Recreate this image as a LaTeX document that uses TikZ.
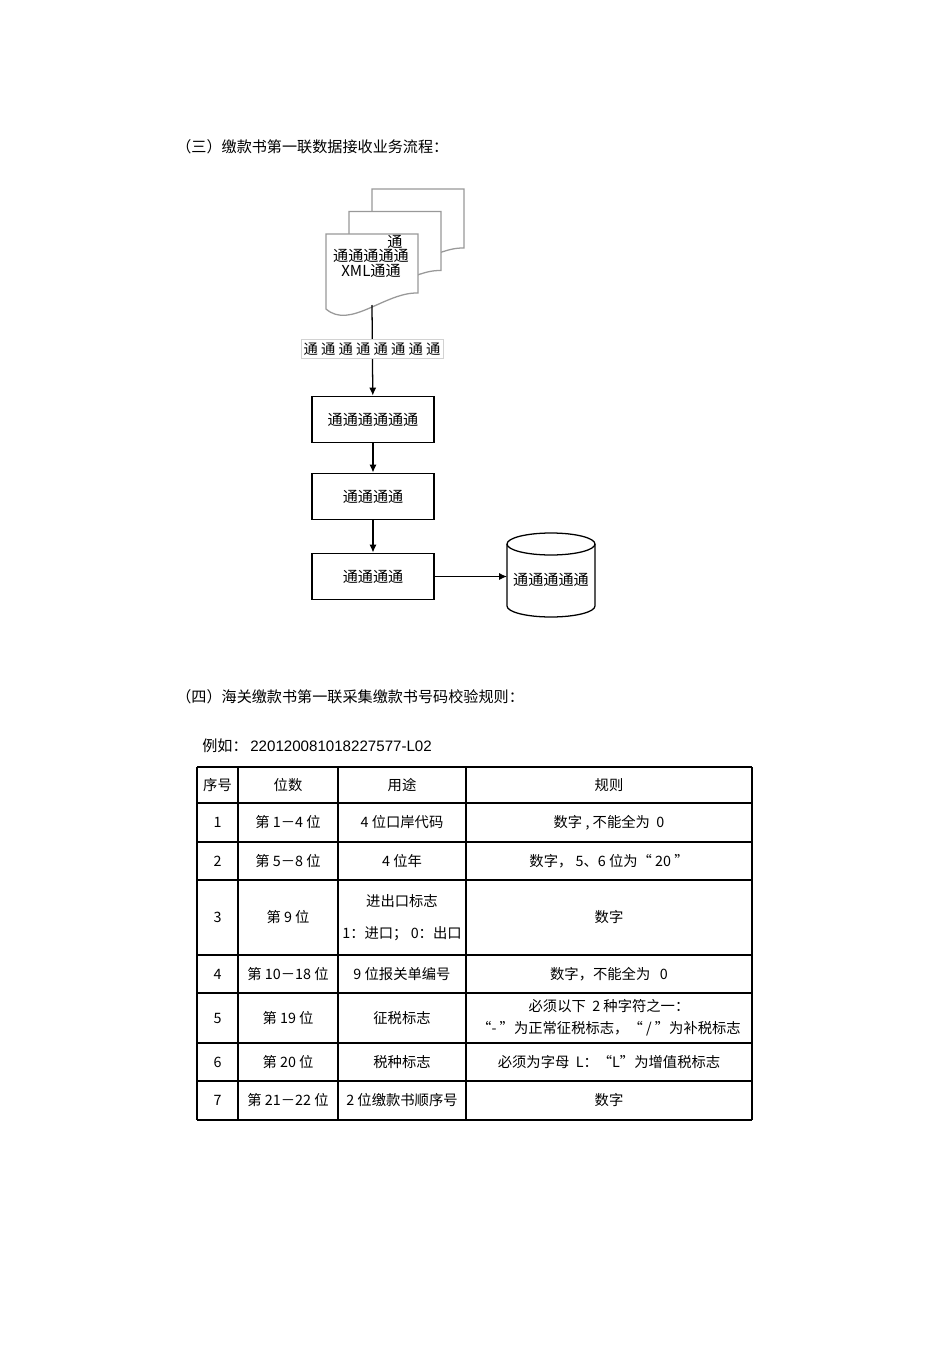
\documentclass[tikz,border=0pt]{standalone}
\usepackage{fontspec}
\setmainfont{Noto Sans CJK SC}
\newfontfamily\latfont{Liberation Sans}
\usetikzlibrary{arrows.meta}

\begin{document}
\begin{tikzpicture}
  [x=0.0221cm,y=-0.0221cm,font=\fontsize{9}{11}\selectfont,
   every node/.style={inner sep=0pt},
   proc/.style={draw,line width=0.8pt,minimum width=2.70cm,minimum height=1.03cm,
     font=\fontsize{9.5}{11}\selectfont},
   page/.style={draw=gray!80,fill=white,line width=0.8pt},
   flow/.style={line width=0.8pt,-{Latex[length=5pt,width=4.5pt]}},
   grid/.style={line width=0.7pt},
   head/.style={anchor=west,font=\fontsize{9.5}{11}\selectfont}]
  \fill[white] (0,0) rectangle (950,1345);
  \useasboundingbox (0,0) rectangle (950,1345);

  \node[head] (t3) at (176,147) {（三）缴款书第一联数据接收业务流程：};

  % stacked documents
  \foreach \k in {2,1,0}
    \draw[page,shift={(23*\k,-22.5*\k)}] (326,234) -- (418,234) -- (418,293)
      .. controls (385,292) and (350,330) .. (326,309) -- cycle;
  \node (d1) at (395,242) {\fontsize{9.5}{11}\selectfont 通};
  \node (d2) at (371,256) {\fontsize{9.5}{11}\selectfont 通通通通通};
  \node (d3) at (371,271) {\fontsize{9.5}{11}\selectfont XML通通};
  \coordinate (docb) at (372,305);

  \node[proc] (b1) at (373,419.5) {通通通通通通};
  \node[proc] (b2) at (373,496.5) {通通通通};
  \node[proc] (b3) at (373,576.5) {通通通通};

  % store
  \draw[line width=0.8pt,fill=white] (507,544) -- (507,606)
    arc[start angle=180,end angle=360,x radius=0.972cm,y radius=0.243cm] -- (595,544);
  \draw[line width=0.8pt] (551,544) ellipse[x radius=0.972cm,y radius=0.243cm];
  \node (db) at (551,580) {\fontsize{9.5}{11}\selectfont 通通通通通};
  \coordinate (dbl) at (507,576.5);

  \draw[flow] (docb) -- (b1);
  \node[draw=gray!35,fill=white,inner xsep=1.5pt,inner ysep=2pt] (lab) at (372,349)
    {通 通 通 通 通 通 通 通};
  \draw[flow] (b1) -- (b2);
  \draw[flow] (b2) -- (b3);
  \draw[flow] (b3) -- (dbl);

  \node[head] (t4) at (176,697) {（四）海关缴款书第一联采集缴款书号码校验规则：};
  \node[head] (eg) at (202,746) {例如：};
  \node[head] (egn) at (250,746) {\latfont 220120081018227577-L02};

  % table
  \foreach \y in {767,803,842,880,955,993,1043,1081,1120}
    \draw[grid] (197,\y) -- (752,\y);
  \foreach \x in {197,238,338,466,752}
    \draw[grid] (\x,767) -- (\x,1120);

  \foreach \r/\y/\a/\b/\c in {0/785/序号/位数/用途,
      1/822.5/1/{第 1－4 位}/{4 位口岸代码},
      2/861/2/{第 5－8 位}/{4 位年},
      3/917.5/3/{第 9 位}/{进出口标志\\[9pt]1：进口； 0：出口},
      4/974/4/{第 10－18 位}/{9 位报关单编号},
      5/1018/5/{第 19 位}/征税标志,
      6/1062/6/{第 20 位}/税种标志,
      7/1100.5/7/{第 21－22 位}/{2 位缴款书顺序号}}
  {
    \node (s\r) at (217.5,\y) {\a};
    \node (w\r) at (288,\y) {\b};
    \node[align=center] (u\r) at (402,\y) {\c};
  }
  \node (g0) at (609,785) {规则};
  \node (g1) at (609,822.5) {数字 , 不能全为 \ 0};
  \node (g2) at (609,861) {数字， 5、6 位为“ 20 ”};
  \node (g3) at (609,917.5) {数字};
  \node (g4) at (609,974) {数字，不能全为 \ \ 0};
  \node[align=center] (g5) at (609,1018) {必须以下 \ 2 种字符之一：\\[3pt]“- ”为正常征税标志，“ / ”为补税标志};
  \node (g6) at (609,1062) {必须为字母 \ L：“L”为增值税标志};
  \node (g7) at (609,1100.5) {数字};
\end{tikzpicture}
\end{document}
